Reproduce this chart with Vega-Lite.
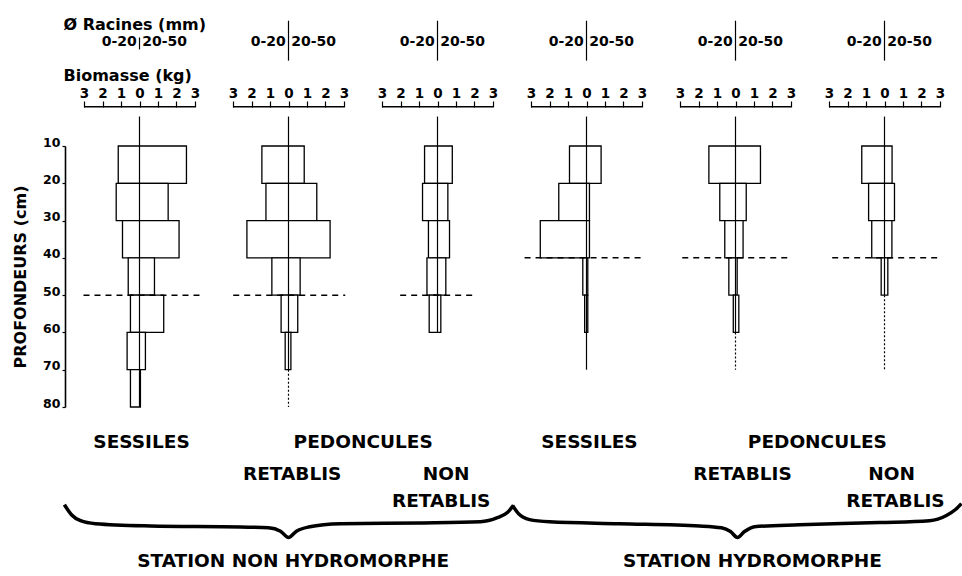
{
  "$schema": "https://vega.github.io/schema/vega-lite/v6.json",
  "background": "white",
  "padding": {"left": 12, "top": 17, "right": 0, "bottom": 0},
  "config": {
    "view": {"stroke": null},
    "font": "DejaVu Sans",
    "axisY": {"tickSize": 3, "domainColor": "black", "domainWidth": 1.6, "tickColor": "black", "tickWidth": 1.2, "labelColor": "black", "labelFontSize": 12.5, "labelFontWeight": "bold", "labelBaseline": "alphabetic", "labelPadding": 2, "titleFontSize": 16, "titleFontWeight": "bold", "titleColor": "black", "titlePadding": 14, "grid": false},
    "axisX": {"tickSize": 6, "tickColor": "black", "tickWidth": 1.2, "labelColor": "black", "labelFontSize": 13.5, "labelFontWeight": "bold", "labelPadding": 1, "grid": false}
  },
  "data": {"values": [
    {"kind": "barre", "panneau": 1, "prof_min": 10, "prof_max": 20, "biomasse_0_20": -1.15, "biomasse_20_50": 2.54},
    {"kind": "barre", "panneau": 1, "prof_min": 20, "prof_max": 30, "biomasse_0_20": -1.26, "biomasse_20_50": 1.55},
    {"kind": "barre", "panneau": 1, "prof_min": 30, "prof_max": 40, "biomasse_0_20": -0.92, "biomasse_20_50": 2.14},
    {"kind": "barre", "panneau": 1, "prof_min": 40, "prof_max": 50, "biomasse_0_20": -0.61, "biomasse_20_50": 0.81},
    {"kind": "barre", "panneau": 1, "prof_min": 50, "prof_max": 60, "biomasse_0_20": -0.49, "biomasse_20_50": 1.31},
    {"kind": "barre", "panneau": 1, "prof_min": 60, "prof_max": 70, "biomasse_0_20": -0.67, "biomasse_20_50": 0.32},
    {"kind": "barre", "panneau": 1, "prof_min": 70, "prof_max": 80, "biomasse_0_20": -0.49, "biomasse_20_50": 0.05},
    {"kind": "barre", "panneau": 2, "prof_min": 10, "prof_max": 20, "biomasse_0_20": -1.44, "biomasse_20_50": 0.85},
    {"kind": "barre", "panneau": 2, "prof_min": 20, "prof_max": 30, "biomasse_0_20": -1.22, "biomasse_20_50": 1.53},
    {"kind": "barre", "panneau": 2, "prof_min": 30, "prof_max": 40, "biomasse_0_20": -2.25, "biomasse_20_50": 2.25},
    {"kind": "barre", "panneau": 2, "prof_min": 40, "prof_max": 50, "biomasse_0_20": -0.9, "biomasse_20_50": 0.63},
    {"kind": "barre", "panneau": 2, "prof_min": 50, "prof_max": 60, "biomasse_0_20": -0.4, "biomasse_20_50": 0.5},
    {"kind": "barre", "panneau": 2, "prof_min": 60, "prof_max": 70, "biomasse_0_20": -0.18, "biomasse_20_50": 0.13},
    {"kind": "barre", "panneau": 3, "prof_min": 10, "prof_max": 20, "biomasse_0_20": -0.7, "biomasse_20_50": 0.8},
    {"kind": "barre", "panneau": 3, "prof_min": 20, "prof_max": 30, "biomasse_0_20": -0.81, "biomasse_20_50": 0.56},
    {"kind": "barre", "panneau": 3, "prof_min": 30, "prof_max": 40, "biomasse_0_20": -0.49, "biomasse_20_50": 0.65},
    {"kind": "barre", "panneau": 3, "prof_min": 40, "prof_max": 50, "biomasse_0_20": -0.57, "biomasse_20_50": 0.45},
    {"kind": "barre", "panneau": 3, "prof_min": 50, "prof_max": 60, "biomasse_0_20": -0.45, "biomasse_20_50": 0.18},
    {"kind": "barre", "panneau": 4, "prof_min": 10, "prof_max": 20, "biomasse_0_20": -0.92, "biomasse_20_50": 0.79},
    {"kind": "barre", "panneau": 4, "prof_min": 20, "prof_max": 30, "biomasse_0_20": -1.5, "biomasse_20_50": 0.16},
    {"kind": "barre", "panneau": 4, "prof_min": 30, "prof_max": 40, "biomasse_0_20": -2.5, "biomasse_20_50": 0.16},
    {"kind": "barre", "panneau": 4, "prof_min": 40, "prof_max": 50, "biomasse_0_20": -0.2, "biomasse_20_50": 0.07},
    {"kind": "barre", "panneau": 4, "prof_min": 50, "prof_max": 60, "biomasse_0_20": -0.1, "biomasse_20_50": 0.07},
    {"kind": "barre", "panneau": 5, "prof_min": 10, "prof_max": 20, "biomasse_0_20": -1.44, "biomasse_20_50": 1.35},
    {"kind": "barre", "panneau": 5, "prof_min": 20, "prof_max": 30, "biomasse_0_20": -0.85, "biomasse_20_50": 0.58},
    {"kind": "barre", "panneau": 5, "prof_min": 30, "prof_max": 40, "biomasse_0_20": -0.58, "biomasse_20_50": 0.41},
    {"kind": "barre", "panneau": 5, "prof_min": 40, "prof_max": 50, "biomasse_0_20": -0.36, "biomasse_20_50": 0.09},
    {"kind": "barre", "panneau": 5, "prof_min": 50, "prof_max": 60, "biomasse_0_20": -0.12, "biomasse_20_50": 0.18},
    {"kind": "barre", "panneau": 6, "prof_min": 10, "prof_max": 20, "biomasse_0_20": -1.23, "biomasse_20_50": 0.41},
    {"kind": "barre", "panneau": 6, "prof_min": 20, "prof_max": 30, "biomasse_0_20": -0.86, "biomasse_20_50": 0.54},
    {"kind": "barre", "panneau": 6, "prof_min": 30, "prof_max": 40, "biomasse_0_20": -0.69, "biomasse_20_50": 0.4},
    {"kind": "barre", "panneau": 6, "prof_min": 40, "prof_max": 50, "biomasse_0_20": -0.18, "biomasse_20_50": 0.18},

    {"kind": "axe", "panneau": 1, "x": 0, "y": 2.1, "y2": 80},
    {"kind": "axe", "panneau": 2, "x": 0, "y": 2.1, "y2": 70},
    {"kind": "axe", "panneau": 3, "x": 0, "y": 2.1, "y2": 60},
    {"kind": "axe", "panneau": 4, "x": 0, "y": 2.1, "y2": 70},
    {"kind": "axe", "panneau": 5, "x": 0, "y": 2.1, "y2": 60},
    {"kind": "axe", "panneau": 6, "x": 0, "y": 2.1, "y2": 50},
    {"kind": "axe", "panneau": 1, "x": 0, "y": -19.1, "y2": -15.9},
    {"kind": "axe", "panneau": 2, "x": 0, "y": -23.6, "y2": -12.9},
    {"kind": "axe", "panneau": 3, "x": 0, "y": -23.6, "y2": -12.9},
    {"kind": "axe", "panneau": 4, "x": 0, "y": -23.6, "y2": -12.9},
    {"kind": "axe", "panneau": 5, "x": 0, "y": -23.6, "y2": -12.9},
    {"kind": "axe", "panneau": 6, "x": 0, "y": -23.6, "y2": -12.9},
    {"kind": "axe_pointille", "panneau": 2, "x": 0, "y": 70, "y2": 80},
    {"kind": "axe_pointille", "panneau": 5, "x": 0, "y": 60, "y2": 70},
    {"kind": "axe_pointille", "panneau": 6, "x": 0, "y": 50, "y2": 70},

    {"kind": "echelle", "panneau": 1, "x": -3, "x2": 3, "y": -0.5},
    {"kind": "echelle", "panneau": 2, "x": -3, "x2": 3, "y": -0.5},
    {"kind": "echelle", "panneau": 3, "x": -3, "x2": 3, "y": -0.5},
    {"kind": "echelle", "panneau": 4, "x": -3, "x2": 3, "y": -0.5},
    {"kind": "echelle", "panneau": 5, "x": -3, "x2": 3, "y": -0.5},
    {"kind": "echelle", "panneau": 6, "x": -3, "x2": 3, "y": -0.5},

    {"kind": "seuil", "panneau": 1, "x": -3.03, "x2": 3.46, "y": 50},
    {"kind": "seuil", "panneau": 2, "x": -2.99, "x2": 3.07, "y": 50},
    {"kind": "seuil", "panneau": 3, "x": -2.02, "x2": 1.94, "y": 50},
    {"kind": "seuil", "panneau": 4, "x": -3.35, "x2": 2.96, "y": 40},
    {"kind": "seuil", "panneau": 5, "x": -2.88, "x2": 2.87, "y": 40},
    {"kind": "seuil", "panneau": 6, "x": -2.83, "x2": 2.87, "y": 40},

    {"kind": "titre", "panneau": 1, "x": -4.11, "y": -22.35, "texte": "Ø Racines (mm)"},
    {"kind": "titre", "panneau": 1, "x": -4.11, "y": -8.7, "texte": "Biomasse (kg)"},

    {"kind": "classe_g", "panneau": 1, "x": -0.15, "y": -17.8, "texte": "0-20"},
    {"kind": "classe_d", "panneau": 1, "x": 0.15, "y": -17.8, "texte": "20-50"},
    {"kind": "classe_g", "panneau": 2, "x": -0.15, "y": -17.8, "texte": "0-20"},
    {"kind": "classe_d", "panneau": 2, "x": 0.15, "y": -17.8, "texte": "20-50"},
    {"kind": "classe_g", "panneau": 3, "x": -0.15, "y": -17.8, "texte": "0-20"},
    {"kind": "classe_d", "panneau": 3, "x": 0.15, "y": -17.8, "texte": "20-50"},
    {"kind": "classe_g", "panneau": 4, "x": -0.15, "y": -17.8, "texte": "0-20"},
    {"kind": "classe_d", "panneau": 4, "x": 0.15, "y": -17.8, "texte": "20-50"},
    {"kind": "classe_g", "panneau": 5, "x": -0.15, "y": -17.8, "texte": "0-20"},
    {"kind": "classe_d", "panneau": 5, "x": 0.15, "y": -17.8, "texte": "20-50"},
    {"kind": "classe_g", "panneau": 6, "x": -0.15, "y": -17.8, "texte": "0-20"},
    {"kind": "classe_d", "panneau": 6, "x": 0.15, "y": -17.8, "texte": "20-50"},

    {"kind": "legende", "panneau": 1, "x": 0.11, "y": 89.3, "texte": "SESSILES"},
    {"kind": "legende", "panneau": 2, "x": 4.04, "y": 89.3, "texte": "PEDONCULES"},
    {"kind": "legende", "panneau": 2, "x": 0.2, "y": 98.0, "texte": "RETABLIS"},
    {"kind": "legende", "panneau": 3, "x": 0.47, "y": 98.0, "texte": "NON"},
    {"kind": "legende", "panneau": 3, "x": 0.2, "y": 105.1, "texte": "RETABLIS"},
    {"kind": "legende", "panneau": 2, "x": 0.25, "y": 121.2, "texte": "STATION NON HYDROMORPHE"},
    {"kind": "legende", "panneau": 4, "x": 0.16, "y": 89.3, "texte": "SESSILES"},
    {"kind": "legende", "panneau": 5, "x": 4.43, "y": 89.3, "texte": "PEDONCULES"},
    {"kind": "legende", "panneau": 5, "x": 0.38, "y": 98.0, "texte": "RETABLIS"},
    {"kind": "legende", "panneau": 6, "x": 0.38, "y": 98.0, "texte": "NON"},
    {"kind": "legende", "panneau": 6, "x": 0.59, "y": 105.1, "texte": "RETABLIS"},
    {"kind": "legende", "panneau": 5, "x": 0.92, "y": 121.2, "texte": "STATION HYDROMORPHE"},

    {"kind": "accolade", "panneau": 1, "x": -4.06, "y": 106.2},
    {"kind": "accolade", "panneau": 1, "x": -3.68, "y": 108.9},
    {"kind": "accolade", "panneau": 1, "x": -3.19, "y": 110.5},
    {"kind": "accolade", "panneau": 1, "x": -2.38, "y": 111.3},
    {"kind": "accolade", "panneau": 1, "x": 0.59, "y": 111.9},
    {"kind": "accolade", "panneau": 1, "x": 5.46, "y": 112.2},
    {"kind": "accolade", "panneau": 1, "x": 6.98, "y": 112.4},
    {"kind": "accolade", "panneau": 1, "x": 7.63, "y": 113.3},
    {"kind": "accolade", "panneau": 1, "x": 8.06, "y": 115.0},
    {"kind": "accolade", "panneau": 1, "x": 8.49, "y": 113.3},
    {"kind": "accolade", "panneau": 1, "x": 9.14, "y": 112.2},
    {"kind": "accolade", "panneau": 1, "x": 10.87, "y": 111.3},
    {"kind": "accolade", "panneau": 1, "x": 15.2, "y": 111.1},
    {"kind": "accolade", "panneau": 1, "x": 18.44, "y": 110.8},
    {"kind": "accolade", "panneau": 1, "x": 19.36, "y": 109.7},
    {"kind": "accolade", "panneau": 1, "x": 19.9, "y": 108.3},
    {"kind": "accolade", "panneau": 1, "x": 20.23, "y": 106.4},
    {"kind": "accolade", "panneau": 4, "x": -4.0, "y": 106.4},
    {"kind": "accolade", "panneau": 4, "x": -3.68, "y": 108.6},
    {"kind": "accolade", "panneau": 4, "x": -3.08, "y": 110.2},
    {"kind": "accolade", "panneau": 4, "x": -2.0, "y": 110.8},
    {"kind": "accolade", "panneau": 4, "x": 1.78, "y": 111.3},
    {"kind": "accolade", "panneau": 4, "x": 6.11, "y": 111.9},
    {"kind": "accolade", "panneau": 4, "x": 7.3, "y": 112.4},
    {"kind": "accolade", "panneau": 4, "x": 7.79, "y": 113.4},
    {"kind": "accolade", "panneau": 4, "x": 8.17, "y": 115.0},
    {"kind": "accolade", "panneau": 4, "x": 8.55, "y": 113.4},
    {"kind": "accolade", "panneau": 4, "x": 9.09, "y": 112.1},
    {"kind": "accolade", "panneau": 4, "x": 11.52, "y": 111.6},
    {"kind": "accolade", "panneau": 4, "x": 15.85, "y": 111.0},
    {"kind": "accolade", "panneau": 4, "x": 18.55, "y": 110.5},
    {"kind": "accolade", "panneau": 4, "x": 19.47, "y": 109.1},
    {"kind": "accolade", "panneau": 4, "x": 19.96, "y": 107.5},
    {"kind": "accolade", "panneau": 4, "x": 20.28, "y": 105.9}
  ]},
  "facet": {"column": {"field": "panneau", "type": "ordinal", "header": null}},
  "spacing": 0,
  "bounds": "flush",
  "spec": {
    "width": 149,
    "height": 261,
    "layer": [
      {
        "transform": [{"filter": "datum.kind == 'barre'"}],
        "mark": {"type": "rect", "fill": "white", "stroke": "black", "strokeWidth": 1.3},
        "encoding": {
          "x": {"field": "biomasse_0_20", "type": "quantitative", "scale": {"domain": [-4.03, 4.03], "nice": false, "zero": false}, "title": null,
                "axis": {"orient": "top", "values": [-3, -2, -1, 0, 1, 2, 3], "labelExpr": "format(abs(datum.value), 'd')", "offset": 39, "domain": false}},
          "x2": {"field": "biomasse_20_50"},
          "y": {"field": "prof_min", "type": "quantitative", "scale": {"domain": [10, 80], "reverse": true, "nice": false, "zero": false}, "title": "PROFONDEURS (cm)",
                "axis": {"values": [10, 20, 30, 40, 50, 60, 70, 80]}},
          "y2": {"field": "prof_max"}
        }
      },
      {
        "transform": [{"filter": "datum.kind == 'axe'"}],
        "mark": {"type": "rule", "color": "black", "strokeWidth": 1.2},
        "encoding": {
          "x": {"field": "x", "type": "quantitative", "scale": {"domain": [-4.03, 4.03], "nice": false, "zero": false}, "title": null,
                "axis": {"orient": "top", "values": [-3, -2, -1, 0, 1, 2, 3], "labelExpr": "format(abs(datum.value), 'd')", "offset": 39, "domain": false}},
          "y": {"field": "y", "type": "quantitative", "scale": {"domain": [10, 80], "reverse": true, "nice": false, "zero": false}, "title": "PROFONDEURS (cm)",
                "axis": {"values": [10, 20, 30, 40, 50, 60, 70, 80]}},
          "y2": {"field": "y2"}
        }
      },
      {
        "transform": [{"filter": "datum.kind == 'axe_pointille'"}],
        "mark": {"type": "rule", "color": "black", "strokeWidth": 1.2, "strokeDash": [2, 2]},
        "encoding": {
          "x": {"field": "x", "type": "quantitative", "scale": {"domain": [-4.03, 4.03], "nice": false, "zero": false}, "title": null,
                "axis": {"orient": "top", "values": [-3, -2, -1, 0, 1, 2, 3], "labelExpr": "format(abs(datum.value), 'd')", "offset": 39, "domain": false}},
          "y": {"field": "y", "type": "quantitative", "scale": {"domain": [10, 80], "reverse": true, "nice": false, "zero": false}, "title": "PROFONDEURS (cm)",
                "axis": {"values": [10, 20, 30, 40, 50, 60, 70, 80]}},
          "y2": {"field": "y2"}
        }
      },
      {
        "transform": [{"filter": "datum.kind == 'echelle' || datum.kind == 'seuil'"}],
        "mark": {"type": "rule", "color": "black", "strokeWidth": 1.5},
        "encoding": {
          "x": {"field": "x", "type": "quantitative", "scale": {"domain": [-4.03, 4.03], "nice": false, "zero": false}, "title": null,
                "axis": {"orient": "top", "values": [-3, -2, -1, 0, 1, 2, 3], "labelExpr": "format(abs(datum.value), 'd')", "offset": 39, "domain": false}},
          "x2": {"field": "x2"},
          "y": {"field": "y", "type": "quantitative", "scale": {"domain": [10, 80], "reverse": true, "nice": false, "zero": false}, "title": "PROFONDEURS (cm)",
                "axis": {"values": [10, 20, 30, 40, 50, 60, 70, 80]}},
          "strokeDash": {"field": "kind", "type": "nominal", "scale": {"domain": ["echelle", "seuil"], "range": [[1, 0], [6, 5]]}, "legend": null}
        }
      },
      {
        "transform": [{"filter": "datum.kind == 'accolade'"}],
        "mark": {"type": "line", "color": "black", "strokeWidth": 3.5, "interpolate": "monotone"},
        "encoding": {
          "x": {"field": "x", "type": "quantitative", "scale": {"domain": [-4.03, 4.03], "nice": false, "zero": false}, "title": null,
                "axis": {"orient": "top", "values": [-3, -2, -1, 0, 1, 2, 3], "labelExpr": "format(abs(datum.value), 'd')", "offset": 39, "domain": false}},
          "y": {"field": "y", "type": "quantitative", "scale": {"domain": [10, 80], "reverse": true, "nice": false, "zero": false}, "title": "PROFONDEURS (cm)",
                "axis": {"values": [10, 20, 30, 40, 50, 60, 70, 80]}}
        }
      },
      {
        "transform": [{"filter": "datum.kind == 'titre'"}],
        "mark": {"type": "text", "align": "left", "baseline": "middle", "fontSize": 16, "fontWeight": "bold", "color": "black"},
        "encoding": {
          "x": {"field": "x", "type": "quantitative", "scale": {"domain": [-4.03, 4.03], "nice": false, "zero": false}, "title": null,
                "axis": {"orient": "top", "values": [-3, -2, -1, 0, 1, 2, 3], "labelExpr": "format(abs(datum.value), 'd')", "offset": 39, "domain": false}},
          "y": {"field": "y", "type": "quantitative", "scale": {"domain": [10, 80], "reverse": true, "nice": false, "zero": false}, "title": "PROFONDEURS (cm)",
                "axis": {"values": [10, 20, 30, 40, 50, 60, 70, 80]}},
          "text": {"field": "texte"}
        }
      },
      {
        "transform": [{"filter": "datum.kind == 'classe_g'"}],
        "mark": {"type": "text", "align": "right", "baseline": "middle", "fontSize": 14, "fontWeight": "bold", "color": "black"},
        "encoding": {
          "x": {"field": "x", "type": "quantitative", "scale": {"domain": [-4.03, 4.03], "nice": false, "zero": false}, "title": null,
                "axis": {"orient": "top", "values": [-3, -2, -1, 0, 1, 2, 3], "labelExpr": "format(abs(datum.value), 'd')", "offset": 39, "domain": false}},
          "y": {"field": "y", "type": "quantitative", "scale": {"domain": [10, 80], "reverse": true, "nice": false, "zero": false}, "title": "PROFONDEURS (cm)",
                "axis": {"values": [10, 20, 30, 40, 50, 60, 70, 80]}},
          "text": {"field": "texte"}
        }
      },
      {
        "transform": [{"filter": "datum.kind == 'classe_d'"}],
        "mark": {"type": "text", "align": "left", "baseline": "middle", "fontSize": 14, "fontWeight": "bold", "color": "black"},
        "encoding": {
          "x": {"field": "x", "type": "quantitative", "scale": {"domain": [-4.03, 4.03], "nice": false, "zero": false}, "title": null,
                "axis": {"orient": "top", "values": [-3, -2, -1, 0, 1, 2, 3], "labelExpr": "format(abs(datum.value), 'd')", "offset": 39, "domain": false}},
          "y": {"field": "y", "type": "quantitative", "scale": {"domain": [10, 80], "reverse": true, "nice": false, "zero": false}, "title": "PROFONDEURS (cm)",
                "axis": {"values": [10, 20, 30, 40, 50, 60, 70, 80]}},
          "text": {"field": "texte"}
        }
      },
      {
        "transform": [{"filter": "datum.kind == 'legende'"}],
        "mark": {"type": "text", "align": "center", "baseline": "middle", "fontSize": 18.5, "fontWeight": "bold", "color": "black"},
        "encoding": {
          "x": {"field": "x", "type": "quantitative", "scale": {"domain": [-4.03, 4.03], "nice": false, "zero": false}, "title": null,
                "axis": {"orient": "top", "values": [-3, -2, -1, 0, 1, 2, 3], "labelExpr": "format(abs(datum.value), 'd')", "offset": 39, "domain": false}},
          "y": {"field": "y", "type": "quantitative", "scale": {"domain": [10, 80], "reverse": true, "nice": false, "zero": false}, "title": "PROFONDEURS (cm)",
                "axis": {"values": [10, 20, 30, 40, 50, 60, 70, 80]}},
          "text": {"field": "texte"}
        }
      }
    ]
  }
}
